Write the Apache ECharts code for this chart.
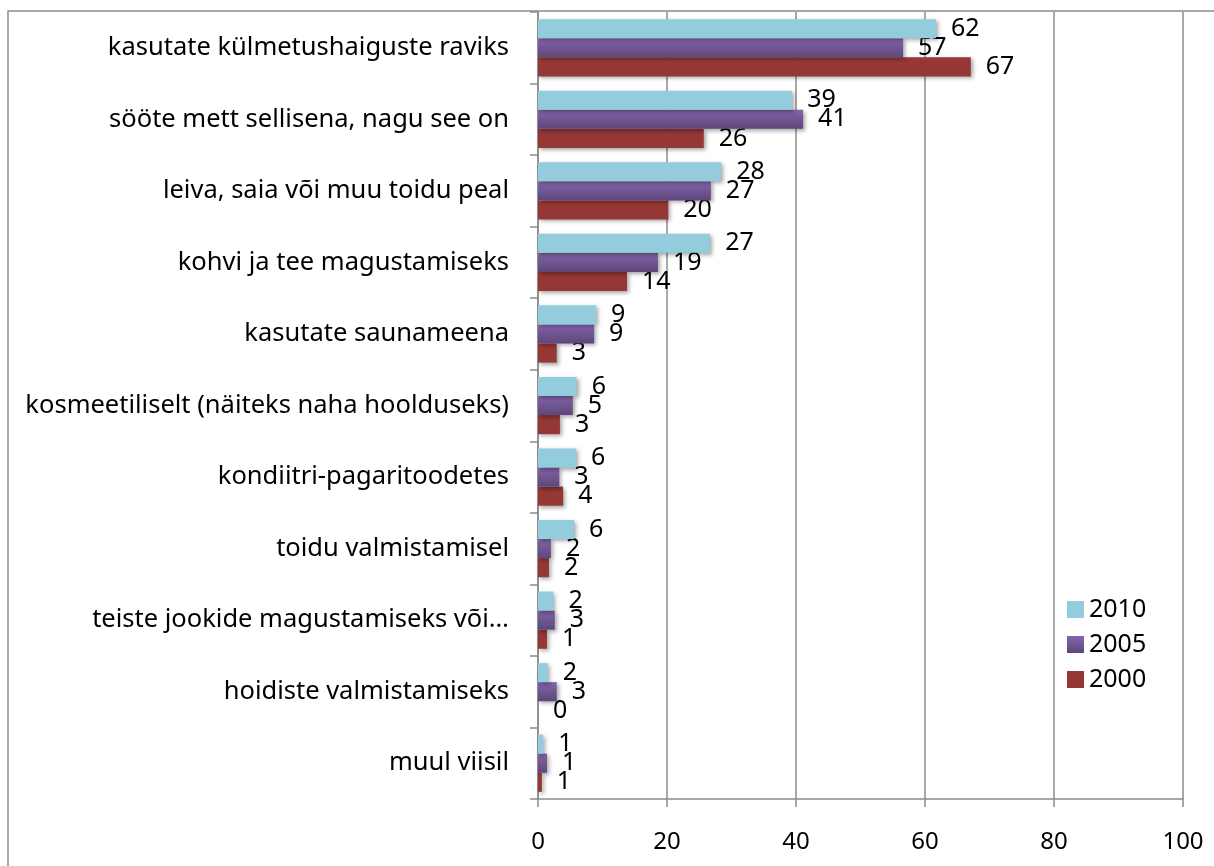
<!DOCTYPE html>
<html>
<head>
<meta charset="utf-8">
<script src="https://cdn.jsdelivr.net/npm/echarts@6/dist/echarts.min.js"></script>
<style>
  html, body { margin: 0; padding: 0; background: #fff; }
  #chart { width: 1214px; height: 866px; }
</style>
</head>
<body>
<div id="chart"></div>
<script>
// kategooriad ülevalt alla
const categories = [
  'kasutate külmetushaiguste raviks',
  'sööte mett sellisena, nagu see on',
  'leiva, saia või muu toidu peal',
  'kohvi ja tee magustamiseks',
  'kasutate saunameena',
  'kosmeetiliselt (näiteks naha hoolduseks)',
  'kondiitri-pagaritoodetes',
  'toidu valmistamisel',
  'teiste jookide magustamiseks või…',
  'hoidiste valmistamiseks',
  'muul viisil'
];

const seriesNames = ['2010', '2005', '2000'];

// väärtused loetud tulpade pikkustest
const values2010 = [61.7, 39.4, 28.4, 26.7, 9.0, 6.0, 5.9, 5.6, 2.4, 1.5, 0.8];
const values2005 = [56.6, 41.1, 26.8, 18.6, 8.7, 5.4, 3.3, 2.0, 2.6, 2.9, 1.4];
const values2000 = [67.1, 25.7, 20.2, 13.8, 2.9, 3.4, 3.9, 1.7, 1.4, 0, 0.6];

const xTicks = [0, 20, 40, 60, 80, 100];

const FONT = '"Noto Sans", sans-serif';
const GREY = '#8c8c8c';

const chart = echarts.init(document.getElementById('chart'));

const shadow = {
  shadowColor: 'rgba(0,0,0,0.35)',
  shadowBlur: 4,
  shadowOffsetX: 2,
  shadowOffsetY: 2
};

const colors = [
  '#93cddd',
  new echarts.graphic.LinearGradient(0, 0, 0, 1, [
    { offset: 0, color: '#8464ad' },
    { offset: 1, color: '#5d4779' }
  ]),
  '#953735'
];

const dataSets = [values2010, values2005, values2000];

chart.setOption({
  backgroundColor: '#fff',
  animation: false,
  graphic: [{
    type: 'rect',
    shape: { x: 8, y: 11, width: 1400, height: 1000 },
    style: { fill: 'none', stroke: GREY, lineWidth: 1.5 },
    z: 0
  }],
  grid: { left: 538, right: 31, top: 12, bottom: 67 },
  legend: {
    orient: 'vertical',
    left: 1062,
    top: 592,
    itemWidth: 17,
    itemHeight: 17,
    itemGap: 10,
    icon: 'rect',
    data: seriesNames,
    textStyle: { fontFamily: FONT, fontSize: 25, color: '#000', lineHeight: 25 }
  },
  xAxis: {
    type: 'value',
    min: xTicks[0],
    max: xTicks[xTicks.length - 1],
    interval: xTicks[1] - xTicks[0],
    axisLine: { show: true, lineStyle: { color: GREY, width: 1.5 } },
    axisTick: { show: true, length: 8, lineStyle: { color: GREY, width: 1.5 } },
    splitLine: { show: true, lineStyle: { color: GREY, width: 1.5 } },
    axisLabel: { fontFamily: FONT, fontSize: 24, color: '#000', margin: 31 }
  },
  yAxis: {
    type: 'category',
    inverse: true,
    data: categories,
    axisLine: { show: true, lineStyle: { color: GREY, width: 1.5 } },
    axisTick: { show: true, length: 8, lineStyle: { color: GREY, width: 1.5 } },
    axisLabel: { fontFamily: FONT, fontSize: 25.5, color: '#000', margin: 29 }
  },
  series: seriesNames.map((name, i) => ({
    name,
    type: 'bar',
    data: dataSets[i],
    barGap: '0%',
    barCategoryGap: '20%',
    itemStyle: Object.assign({ color: colors[i] }, shadow),
    label: {
      show: true,
      position: 'right',
      distance: 15,
      fontFamily: FONT,
      fontSize: 25,
      color: '#000',
      formatter: p => Math.round(p.value)
    },
    z: 3 - i
  }))
});
</script>
</body>
</html>
